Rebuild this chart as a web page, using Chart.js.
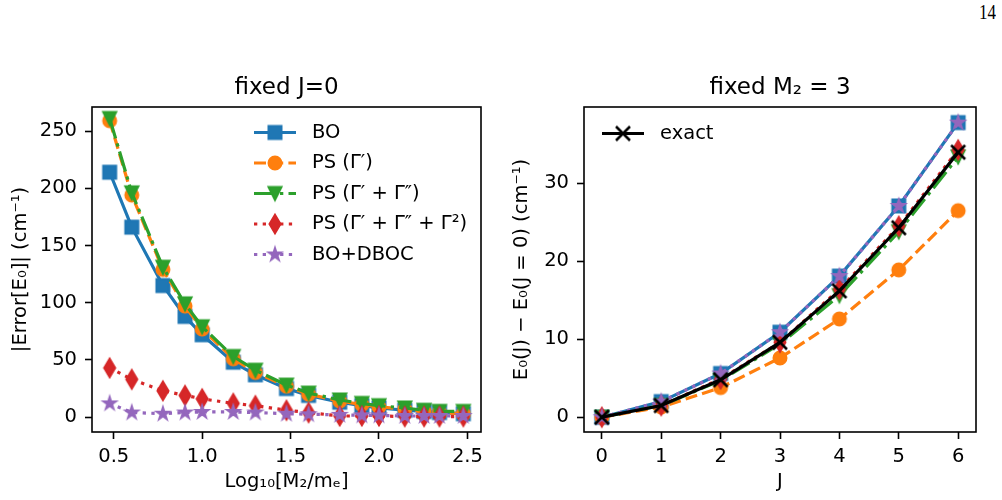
<!DOCTYPE html>
<html>
<head>
<meta charset="utf-8">
<script src="https://cdn.jsdelivr.net/npm/chart.js@4.4.1/dist/chart.umd.min.js"></script>
<style>
  body { margin: 0; background: #fff; }
  #wrap { position: relative; width: 1002px; height: 500px; }
  #wrap canvas { position: absolute; top: 0; }
  #pg { position: absolute; right: 6px; top: 1px; font-family: 'Liberation Serif', serif; font-size: 20px; color: #000; transform: scaleX(0.85); transform-origin: right top; }
</style>
</head>
<body>
<div id="wrap">
  <div id="pg">14</div>
  <canvas id="leftChart" width="501" height="500" style="left:0"></canvas>
  <canvas id="rightChart" width="501" height="500" style="left:501px"></canvas>
</div>
<script>
// ---- data: left panel (fixed J=0) ----
const logMass = [0.477, 0.602, 0.778, 0.903, 1.0, 1.176, 1.301, 1.477, 1.602, 1.778, 1.903, 2.0, 2.146, 2.255, 2.342, 2.477];
const errBO    = [214, 166, 115, 88, 72, 48, 37, 25, 19, 13, 10, 8, 6, 5, 4, 3];
const errPS1   = [259, 194, 129, 97, 77, 51, 39, 27, 20, 14, 11, 9, 7, 5, 4, 3];
const errPS2   = [261, 196, 131, 99, 79, 53, 41, 28, 21, 15, 12, 10, 8, 6, 5, 5];
const errPS3   = [43, 33, 23, 19, 16, 12, 10, 6, 4, 1, 1, 1, 0.5, 0.5, 0.5, 0.5];
const errDBOC  = [12, 4, 3, 4, 4.5, 4.5, 4, 3, 2.5, 2, 1.5, 1.5, 1, 1, 1, 1];
const leftXTicks = [0.5, 1.0, 1.5, 2.0, 2.5];
const leftYTicks = [0, 50, 100, 150, 200, 250];

// ---- data: right panel (fixed M2 = 3) ----
const Jvals    = [0, 1, 2, 3, 4, 5, 6];
const rotBO    = [0, 2.0, 5.6, 10.9, 18.1, 27.1, 37.8];
const rotPS1   = [0, 1.3, 3.8, 7.6, 12.6, 18.9, 26.5];
const rotPS2   = [0, 1.5, 4.7, 9.4, 15.6, 23.8, 33.4];
const rotPS3   = [0, 1.5, 4.9, 9.6, 16.4, 24.5, 34.3];
const rotDBOC  = [0, 2.0, 5.6, 10.9, 18.1, 27.1, 37.8];
const rotExact = [0, 1.5, 4.8, 9.6, 16.2, 24.3, 34.0];
const rightXTicks = [0, 1, 2, 3, 4, 5, 6];
const rightYTicks = [0, 10, 20, 30];

const FONT = "'DejaVu Sans', sans-serif";
Chart.defaults.font.family = FONT;
Chart.defaults.font.size = 19.5;
Chart.defaults.color = '#000';

// matplotlib-like markers drawn into small canvases
function marker(shape, color) {
  const c = document.createElement('canvas');
  c.width = 28; c.height = 28;
  const g = c.getContext('2d');
  g.translate(14, 14);
  g.fillStyle = color; g.strokeStyle = color; g.lineWidth = 2; g.lineJoin = 'miter';
  const s = 6.5;
  g.beginPath();
  if (shape === 'square') {
    g.rect(-s, -s, 2 * s, 2 * s);
  } else if (shape === 'circle') {
    g.arc(0, 0, s, 0, Math.PI * 2);
  } else if (shape === 'tridown') {
    g.moveTo(0, s); g.lineTo(-s, -s); g.lineTo(s, -s); g.closePath();
  } else if (shape === 'thindiamond') {
    const h = s * 1.414, w = h * 0.6;
    g.moveTo(0, -h); g.lineTo(w, 0); g.lineTo(0, h); g.lineTo(-w, 0); g.closePath();
  } else if (shape === 'star') {
    for (let k = 0; k < 10; k++) {
      const r = k % 2 ? s * 0.382 : s;
      const a = -Math.PI / 2 + k * Math.PI / 5;
      k ? g.lineTo(r * Math.cos(a), r * Math.sin(a)) : g.moveTo(r * Math.cos(a), r * Math.sin(a));
    }
    g.closePath();
  } else if (shape === 'x') {
    g.lineWidth = 2.6;
    g.moveTo(-7, -7); g.lineTo(7, 7); g.moveTo(-7, 7); g.lineTo(7, -7);
    g.stroke();
    return c;
  }
  g.fill(); g.stroke();
  return c;
}

const styles = {
  bo:    { label: 'BO', color: '#1f77b4', dash: [], shape: 'square' },
  ps1:   { label: 'PS (Γ′)', color: '#ff7f0e', dash: [12, 5.2], shape: 'circle' },
  ps2:   { label: 'PS (Γ′ + Γ″)', color: '#2ca02c', dash: [20.8, 5.2, 3.3, 5.2], shape: 'tridown' },
  ps3:   { label: 'PS (Γ′ + Γ″ + Γ²)', color: '#d62728', dash: [3.3, 5.4], shape: 'thindiamond' },
  dboc:  { label: 'BO+DBOC', color: '#9467bd', dash: [3.3, 5.4], shape: 'star' },
  exact: { label: 'exact', color: '#000000', dash: [], shape: 'x' }
};

function makeSets(xs, list) {
  return list.map(([key, ys], i) => {
    const st = styles[key];
    return {
      label: st.label,
      data: xs.map((x, j) => ({ x: x, y: ys[j] })),
      borderColor: st.color,
      backgroundColor: st.color,
      borderWidth: 3.2,
      borderDash: st.dash,
      pointStyle: marker(st.shape, st.color),
      pointRadius: 7,
      tension: 0,
      order: list.length - i
    };
  });
}

const framePlugin = {
  id: 'frame',
  afterDatasetsDraw(chart) {
    const { ctx, chartArea: a } = chart;
    ctx.save();
    ctx.strokeStyle = '#000'; ctx.lineWidth = 1.6;
    ctx.strokeRect(a.left, a.top, a.right - a.left, a.bottom - a.top);
    ctx.restore();
  }
};

const titlePlugin = {
  id: 'panelTitle',
  afterDraw(chart, args, opts) {
    const { ctx, chartArea: a } = chart;
    ctx.save();
    ctx.font = '23px ' + FONT;
    ctx.fillStyle = '#000';
    ctx.textAlign = 'center';
    ctx.textBaseline = 'alphabetic';
    ctx.fillText(opts.text, (a.left + a.right) / 2, a.top - 13);
    ctx.restore();
  }
};

const legendPlugin = {
  id: 'lineLegend',
  afterDraw(chart, args, opts) {
    if (!opts.items) return;
    const { ctx, chartArea: a } = chart;
    ctx.save();
    opts.items.forEach((idx, i) => {
      const ds = chart.data.datasets[idx];
      const x0 = a.left + opts.dx;
      const y = a.top + opts.dy + i * opts.gap;
      ctx.strokeStyle = ds.borderColor;
      ctx.lineWidth = ds.borderWidth;
      ctx.setLineDash(ds.borderDash);
      ctx.beginPath(); ctx.moveTo(x0, y); ctx.lineTo(x0 + opts.len, y); ctx.stroke();
      ctx.setLineDash([]);
      const img = ds.pointStyle;
      ctx.drawImage(img, x0 + opts.len / 2 - img.width / 2, y - img.height / 2);
      ctx.fillStyle = '#000';
      ctx.font = '19.5px ' + FONT;
      ctx.textBaseline = 'middle';
      ctx.fillText(ds.label, x0 + opts.textDx, y);
    });
    ctx.restore();
  }
};

function axis(o) {
  return {
    type: 'linear',
    min: o.min, max: o.max,
    afterFit: o.fit,
    afterBuildTicks: s => { s.ticks = o.ticks.map(v => ({ value: v })); },
    ticks: { callback: o.fmt, padding: o.pad, color: '#000', autoSkip: false, maxRotation: 0 },
    grid: { drawOnChartArea: false, tickLength: 7, tickWidth: 1.6, tickColor: '#000' },
    border: { display: false },
    title: { display: true, text: o.title, color: '#000', font: { size: 19.5 }, padding: o.titlePad }
  };
}

function makeChart(id, cfg) {
  return new Chart(document.getElementById(id), {
    type: 'line',
    data: { datasets: cfg.datasets },
    options: {
      responsive: false, animation: false, events: [],
      layout: { padding: { left: 0, right: cfg.padRight, top: 107, bottom: 0 } },
      plugins: {
        legend: { display: false }, tooltip: { enabled: false },
        panelTitle: { text: cfg.title },
        lineLegend: cfg.legend
      },
      scales: {
        x: axis({ min: cfg.xMin, max: cfg.xMax, ticks: cfg.xTicks, fmt: cfg.xFmt, pad: 6,
                  fit: s => { s.height = 68; }, title: cfg.xTitle, titlePad: { top: 0, bottom: 6 } }),
        y: axis({ min: cfg.yMin, max: cfg.yMax, ticks: cfg.yTicks, fmt: v => String(v), pad: 8,
                  fit: s => { s.width = cfg.yWidth; }, title: cfg.yTitle, titlePad: { top: 9, bottom: 0 } })
      }
    },
    plugins: [framePlugin, titlePlugin, legendPlugin]
  });
}

makeChart('leftChart', {
  datasets: makeSets(logMass, [['bo', errBO], ['ps1', errPS1], ['ps2', errPS2], ['ps3', errPS3], ['dboc', errDBOC]]),
  title: 'fixed J=0',
  padRight: 20, yWidth: 92,
  xMin: 0.377, xMax: 2.577, xTicks: leftXTicks, xFmt: v => v.toFixed(1),
  yMin: -13, yMax: 271, yTicks: leftYTicks,
  xTitle: 'Log₁₀[M₂/mₑ]', yTitle: '|Error[E₀]| (cm⁻¹)',
  legend: { items: [0, 1, 2, 3, 4], dx: 162, dy: 25.5, gap: 30.5, len: 42, textDx: 58 }
});

makeChart('rightChart', {
  datasets: makeSets(Jvals, [['bo', rotBO], ['ps1', rotPS1], ['ps2', rotPS2], ['ps3', rotPS3], ['dboc', rotDBOC], ['exact', rotExact]]),
  title: 'fixed M₂ = 3',
  padRight: 26, yWidth: 83,
  xMin: -0.3, xMax: 6.3, xTicks: rightXTicks, xFmt: v => String(v),
  yMin: -1.9, yMax: 39.8, yTicks: rightYTicks,
  xTitle: 'J', yTitle: 'E₀(J) − E₀(J = 0) (cm⁻¹)',
  legend: { items: [5], dx: 18, dy: 26.5, gap: 30, len: 42, textDx: 58 }
});
</script>
</body>
</html>
